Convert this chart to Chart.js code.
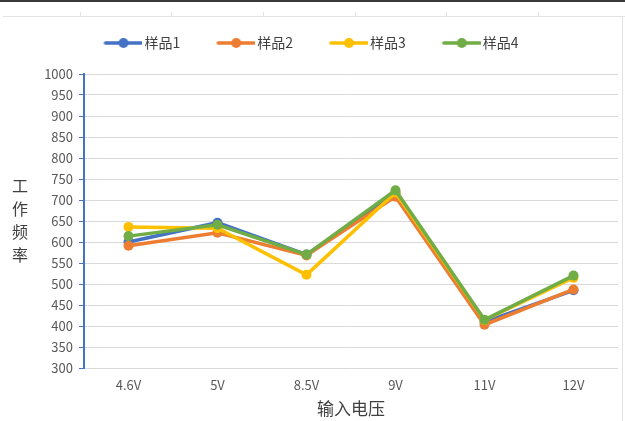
<!DOCTYPE html>
<html>
<head>
<meta charset="utf-8">
<script src="https://cdn.jsdelivr.net/npm/chart.js@4/dist/chart.umd.min.js"></script>
<style>
  html, body { margin: 0; padding: 0; background: #ffffff; }
  #wrap { position: relative; width: 625px; height: 421px; }
</style>
</head>
<body>
<div id="wrap"><canvas id="c" width="625" height="421"></canvas></div>
<script>
// Working frequency measured at each input voltage, four samples
const categories = ['4.6V', '5V', '8.5V', '9V', '11V', '12V'];
const seriesNames = ['样品1', '样品2', '样品3', '样品4'];
const sample1 = [600, 646, 570, 716, 410, 485];
const sample2 = [591, 622, 568, 708, 403, 487];
const sample3 = [636, 633, 522, 718, 414, 515];
const sample4 = [614, 641, 570, 723, 415, 520];
const yTicks = [300, 350, 400, 450, 500, 550, 600, 650, 700, 750, 800, 850, 900, 950, 1000];
const xTitle = '输入电压';
const yTitle = '工作频率';

const colors = ['#4472C4', '#ED7D31', '#FFC000', '#70AD47'];
const FONT = "'Noto Sans CJK SC', 'Noto Sans', sans-serif";

// Legend marker: a short line with a dot, offset so it sits just left of the label
function legendMarker(color) {
  const cv = document.createElement('canvas');
  cv.width = 70; cv.height = 12;
  const g = cv.getContext('2d');
  g.strokeStyle = color;
  g.lineWidth = 3.5;
  g.lineCap = 'round';
  g.beginPath(); g.moveTo(33, 6); g.lineTo(69, 6); g.stroke();
  g.fillStyle = color;
  g.beginPath(); g.arc(51, 6, 5, 0, Math.PI * 2); g.fill();
  return cv;
}
const markers = colors.map(legendMarker);

const allSeries = [sample1, sample2, sample3, sample4];
const datasets = allSeries.map((vals, i) => ({
  label: seriesNames[i],
  data: vals,
  borderColor: colors[i],
  backgroundColor: colors[i],
  borderWidth: 3.5,
  pointRadius: 5,
  pointHoverRadius: 5,
  pointBorderWidth: 0,
  tension: 0,
  order: allSeries.length - i
}));

// Page frame, legend placement, stacked y title
const decorations = {
  id: 'decorations',
  afterLayout(chart) {
    const lg = chart.legend;
    lg.left -= 11; lg.right -= 11;
    lg.top -= 14; lg.bottom -= 14;
  },
  beforeDraw(chart) {
    const ctx = chart.ctx;
    ctx.save();
    ctx.fillStyle = '#ffffff';
    ctx.fillRect(0, 0, chart.width, chart.height);
    ctx.fillStyle = '#3a3a3a';
    ctx.fillRect(0, 0, chart.width, 2);
    ctx.strokeStyle = '#e3e3e3';
    ctx.lineWidth = 1;
    ctx.beginPath();
    ctx.moveTo(3, 16.5); ctx.lineTo(chart.width, 16.5);
    [80, 171, 263, 355, 446, 538].forEach(x => {
      ctx.moveTo(x + 0.5, 12); ctx.lineTo(x + 0.5, 17);
    });
    ctx.moveTo(622.5, 17); ctx.lineTo(622.5, chart.height);
    ctx.stroke();
    ctx.restore();
  },
  afterDraw(chart) {
    const ctx = chart.ctx;
    ctx.save();
    ctx.fillStyle = '#404040';
    ctx.font = '16px ' + FONT;
    ctx.textAlign = 'center';
    ctx.textBaseline = 'middle';
    const chars = Array.from(yTitle);
    chars.forEach((ch, i) => ctx.fillText(ch, 20, 186 + i * 23));
    ctx.restore();
  }
};

new Chart(document.getElementById('c'), {
  type: 'line',
  data: { labels: categories, datasets },
  plugins: [decorations],
  options: {
    responsive: false,
    animation: false,
    events: [],
    layout: { padding: { top: 25, left: 0, right: 7, bottom: 0 } },
    plugins: {
      tooltip: { enabled: false },
      legend: {
        display: true,
        position: 'top',
        align: 'center',
        labels: {
          usePointStyle: true,
          pointStyleWidth: 60,
          padding: 10,
          color: '#404040',
          font: { family: FONT, size: 14 },
          sort: (a, b) => a.datasetIndex - b.datasetIndex,
          generateLabels(chart) {
            const items = Chart.defaults.plugins.legend.labels.generateLabels(chart);
            items.forEach(it => { it.pointStyle = markers[it.datasetIndex]; });
            return items;
          }
        }
      }
    },
    scales: {
      x: {
        type: 'category',
        offset: true,
        grid: { display: false, drawTicks: false },
        border: { display: false },
        ticks: {
          color: '#595959',
          font: { family: FONT, size: 13 },
          padding: 9,
          maxRotation: 0
        },
        title: {
          display: true,
          text: xTitle,
          color: '#404040',
          font: { family: FONT, size: 17 },
          padding: { top: 0, bottom: 2 }
        },
        afterFit(scale) { scale.height = 53; }
      },
      y: {
        min: 300,
        max: 1000,
        afterBuildTicks(scale) { scale.ticks = yTicks.map(v => ({ value: v })); },
        grid: {
          color: '#d9d9d9',
          lineWidth: 1,
          drawTicks: true,
          tickLength: 5,
          tickColor: '#4472C4'
        },
        border: { display: true, color: '#4472C4', width: 2 },
        ticks: {
          color: '#595959',
          font: { family: FONT, size: 13 },
          padding: 6,
          callback: (v) => String(v)
        },
        afterFit(scale) {
          scale.width = 84;
          scale.paddingTop = 74;
        }
      }
    }
  }
});
</script>
</body>
</html>
